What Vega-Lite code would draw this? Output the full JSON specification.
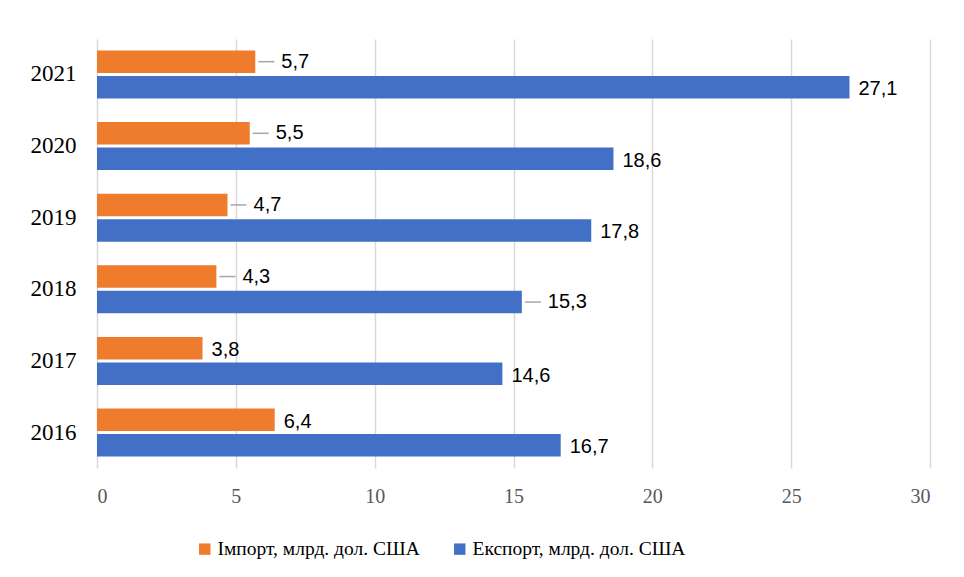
{
  "$schema": "https://vega.github.io/schema/vega-lite/v6.json",
  "width": 833,
  "height": 429,
  "autosize": {"type": "none"},
  "padding": {"left": 97, "top": 39, "right": 34, "bottom": 109},
  "background": "white",
  "config": {
    "view": {"stroke": null},
    "locale": {"number": {"decimal": ",", "thousands": " ", "grouping": [3], "currency": ["", ""]}}
  },
  "data": {
    "values": [
      {"year": 2021, "series": "Імпорт, млрд. дол. США", "value": 5.7},
      {"year": 2021, "series": "Експорт, млрд. дол. США", "value": 27.1},
      {"year": 2020, "series": "Імпорт, млрд. дол. США", "value": 5.5},
      {"year": 2020, "series": "Експорт, млрд. дол. США", "value": 18.6},
      {"year": 2019, "series": "Імпорт, млрд. дол. США", "value": 4.7},
      {"year": 2019, "series": "Експорт, млрд. дол. США", "value": 17.8},
      {"year": 2018, "series": "Імпорт, млрд. дол. США", "value": 4.3},
      {"year": 2018, "series": "Експорт, млрд. дол. США", "value": 15.3},
      {"year": 2017, "series": "Імпорт, млрд. дол. США", "value": 3.8},
      {"year": 2017, "series": "Експорт, млрд. дол. США", "value": 14.6},
      {"year": 2016, "series": "Імпорт, млрд. дол. США", "value": 6.4},
      {"year": 2016, "series": "Експорт, млрд. дол. США", "value": 16.7}
    ]
  },
  "encoding": {
    "y": {
      "field": "year",
      "type": "ordinal",
      "sort": "descending",
      "scale": {"paddingInner": 0.33, "paddingOuter": 0.16},
      "axis": {
        "title": null,
        "domain": false,
        "ticks": false,
        "labelFont": "Liberation Serif",
        "labelFontSize": 23,
        "labelColor": "#000000",
        "labelPadding": 21
      }
    },
    "yOffset": {
      "field": "series",
      "type": "nominal",
      "sort": ["Імпорт, млрд. дол. США", "Експорт, млрд. дол. США"],
      "scale": {"paddingInner": 0.12}
    },
    "x": {
      "field": "value",
      "type": "quantitative",
      "scale": {"domain": [0, 30], "nice": false},
      "axis": {
        "title": null,
        "values": [0, 5, 10, 15, 20, 25, 30],
        "grid": true,
        "gridColor": "#d9d9d9",
        "gridWidth": 1.5,
        "domain": false,
        "ticks": false,
        "labelFont": "Liberation Serif",
        "labelFontSize": 20,
        "labelColor": "#595959",
        "labelPadding": 18,
        "format": "d"
      }
    }
  },
  "layer": [
    {
      "mark": {"type": "bar"},
      "encoding": {
        "color": {
          "field": "series",
          "type": "nominal",
          "scale": {
            "domain": ["Імпорт, млрд. дол. США", "Експорт, млрд. дол. США"],
            "range": ["#ef7b2c", "#4170c6"]
          },
          "legend": {
            "title": null,
            "orient": "none",
            "legendX": 98,
            "legendY": 500,
            "direction": "horizontal",
            "symbolType": "square",
            "symbolSize": 130,
            "symbolStrokeWidth": 0,
            "labelFont": "Liberation Serif",
            "labelFontSize": 19.5,
            "labelColor": "#000000",
            "labelLimit": 400,
            "labelOffset": 3,
            "columnPadding": 30
          }
        }
      }
    },
    {
      "transform": [
        {"filter": "(datum.series == 'Імпорт, млрд. дол. США' && datum.year >= 2018) || (datum.series == 'Експорт, млрд. дол. США' && datum.year == 2018)"}
      ],
      "mark": {"type": "rule", "color": "#a6a6a6", "strokeWidth": 1.5, "xOffset": 3, "x2Offset": 19},
      "encoding": {"x2": {"field": "value"}}
    },
    {
      "transform": [
        {"filter": "(datum.series == 'Імпорт, млрд. дол. США' && datum.year >= 2018) || (datum.series == 'Експорт, млрд. дол. США' && datum.year == 2018)"}
      ],
      "mark": {"type": "text", "align": "left", "baseline": "middle", "dx": 26, "font": "Liberation Sans", "fontSize": 20, "color": "#000000"},
      "encoding": {"text": {"field": "value", "type": "quantitative", "format": ".1f"}}
    },
    {
      "transform": [
        {"filter": "!((datum.series == 'Імпорт, млрд. дол. США' && datum.year >= 2018) || (datum.series == 'Експорт, млрд. дол. США' && datum.year == 2018))"}
      ],
      "mark": {"type": "text", "align": "left", "baseline": "middle", "dx": 9, "dy": 2, "font": "Liberation Sans", "fontSize": 20, "color": "#000000"},
      "encoding": {"text": {"field": "value", "type": "quantitative", "format": ".1f"}}
    }
  ]
}
